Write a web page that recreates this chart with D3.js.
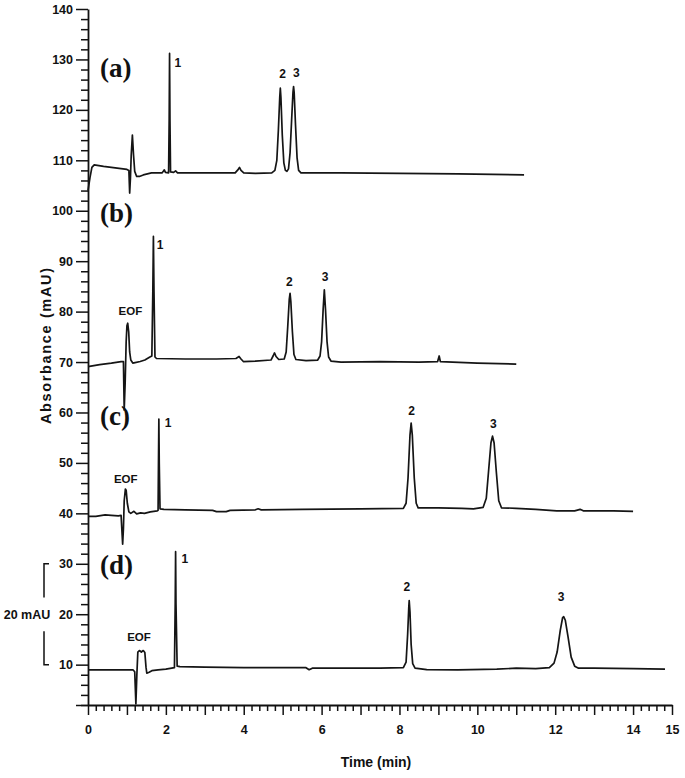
<!DOCTYPE html>
<html>
<head>
<meta charset="utf-8">
<script src="https://cdn.jsdelivr.net/npm/d3@7"></script>
<style>
  body { margin: 0; background: #fff; }
  svg { display: block; }
  text { font-family: "Liberation Sans", Arial, sans-serif; font-weight: bold; fill: #111; }
  .panel { font-family: "Liberation Serif", "Times New Roman", serif; font-size: 27px; }
</style>
</head>
<body>
<div id="chart"></div>
<script>
// electropherograms (a)-(d): [time (min), absorbance (mAU)]
const traceA = [
  [0.00,104.0],[0.05,106.5],[0.10,108.6],[0.16,109.1],[0.40,108.8],[0.70,108.5],[1.00,108.2],[1.05,108.0],
  [1.07,103.5],[1.09,106.5],[1.11,111.0],[1.14,115.0],[1.17,111.0],[1.20,107.8],[1.25,106.8],[1.32,106.8],
  [1.42,107.1],[1.63,107.5],[1.90,107.5],[1.94,107.9],[1.96,108.1],[1.99,107.6],[2.07,107.5],[2.085,118.0],
  [2.095,131.2],[2.105,118.0],[2.12,107.7],[2.20,107.6],[2.25,107.9],[2.30,107.5],[3.00,107.5],[3.78,107.5],
  [3.86,108.2],[3.89,108.6],[3.93,108.0],[4.00,107.5],[4.30,107.4],[4.72,107.5],[4.80,108.0],[4.85,110.0],
  [4.89,116.0],[4.925,122.5],[4.94,124.3],[4.955,122.5],[4.99,115.0],[5.03,109.5],[5.07,108.0],[5.11,107.8],
  [5.15,108.3],[5.19,111.5],[5.23,118.0],[5.265,123.5],[5.28,124.6],[5.295,123.5],[5.33,117.0],[5.37,110.5],
  [5.41,108.0],[5.47,107.5],[6.50,107.5],[8.00,107.4],[9.50,107.3],[11.20,107.1]
];
const traceB = [
  [0.00,69.1],[0.30,69.5],[0.60,69.8],[0.85,70.1],[0.91,70.1],[0.93,60.5],[0.955,66.0],[0.98,74.0],
  [1.00,77.2],[1.02,77.7],[1.045,76.0],[1.07,72.0],[1.10,70.4],[1.15,69.8],[1.21,69.9],[1.34,70.1],
  [1.46,70.4],[1.59,71.0],[1.64,71.2],[1.665,84.0],[1.68,94.9],[1.695,84.0],[1.72,71.0],[1.76,70.7],
  [2.50,70.6],[3.30,70.6],[3.80,70.7],[3.88,71.1],[3.93,70.6],[3.99,70.1],[4.30,70.2],[4.70,70.4],
  [4.76,71.3],[4.79,71.8],[4.83,71.1],[4.90,70.5],[5.04,70.6],[5.09,72.0],[5.13,77.0],[5.17,82.5],
  [5.19,83.6],[5.21,82.0],[5.25,76.0],[5.29,71.5],[5.34,70.5],[5.60,70.3],[5.90,70.4],[5.96,71.2],
  [6.00,74.0],[6.04,80.5],[6.07,84.3],[6.10,80.5],[6.14,74.0],[6.18,71.0],[6.24,70.2],[6.50,70.0],
  [7.50,70.1],[8.50,70.0],[8.98,70.1],[9.02,71.2],[9.05,70.1],[10.00,69.8],[11.00,69.6]
];
const traceC = [
  [0.00,39.4],[0.20,39.4],[0.44,39.7],[0.60,39.6],[0.78,39.5],[0.85,39.6],[0.89,33.9],[0.91,37.0],
  [0.93,42.5],[0.96,44.8],[0.98,44.6],[1.01,42.0],[1.05,40.3],[1.10,40.0],[1.18,40.4],[1.25,39.9],
  [1.35,40.1],[1.45,40.0],[1.60,40.3],[1.78,40.5],[1.80,40.6],[1.81,50.0],[1.82,58.7],[1.83,50.0],
  [1.85,40.9],[1.95,40.8],[2.50,40.7],[3.20,40.6],[3.30,40.35],[3.55,40.35],[3.65,40.6],[4.30,40.7],
  [4.37,40.9],[4.45,40.7],[5.50,40.8],[7.00,40.9],[8.10,41.0],[8.17,42.0],[8.22,47.0],[8.27,55.5],
  [8.30,57.9],[8.33,55.5],[8.38,47.0],[8.43,42.0],[8.48,41.1],[9.00,41.1],[9.60,41.0],[9.90,40.9],
  [10.15,41.2],[10.23,43.0],[10.29,48.5],[10.35,54.0],[10.39,55.3],[10.43,54.0],[10.49,48.0],[10.55,42.5],
  [10.62,41.1],[11.00,41.0],[11.50,40.8],[12.04,40.5],[12.50,40.5],[12.64,40.8],[12.72,40.5],[13.50,40.5],
  [14.00,40.4]
];
const traceD = [
  [0.00,8.95],[0.50,8.95],[1.00,8.95],[1.16,8.95],[1.20,8.6],[1.23,2.2],[1.255,8.0],[1.28,12.5],
  [1.32,12.8],[1.37,12.5],[1.42,12.8],[1.46,12.4],[1.49,9.5],[1.51,8.3],[1.57,8.5],[1.64,8.8],
  [1.80,8.95],[2.00,9.1],[2.15,9.3],[2.22,9.4],[2.24,22.0],[2.25,32.4],[2.26,22.0],[2.29,9.7],
  [2.36,9.6],[3.00,9.5],[4.00,9.4],[5.00,9.4],[5.60,9.4],[5.68,9.0],[5.76,9.3],[6.50,9.3],
  [7.50,9.3],[8.10,9.4],[8.17,10.5],[8.21,16.0],[8.24,21.5],[8.25,22.7],[8.27,20.5],[8.30,14.0],
  [8.34,10.2],[8.40,9.3],[8.70,9.0],[9.50,8.95],[10.50,9.1],[11.00,9.3],[11.50,9.2],[11.85,9.4],
  [11.97,10.3],[12.05,12.5],[12.13,16.8],[12.19,19.3],[12.22,19.5],[12.26,18.8],[12.33,15.5],[12.41,11.5],
  [12.50,9.7],[12.60,9.3],[13.00,9.3],[14.00,9.2],[14.82,9.1]
];
const traces = [traceA, traceB, traceC, traceD];

// annotations: [text, time, absorbance]
const panelLabels = [["(a)",0.31,126.5],["(b)",0.31,97.8],["(c)",0.31,57.5],["(d)",0.31,28.0]];
const peakLabels = [
  ["1",2.31,129.3],["2",5.00,127.1],["3",5.35,127.4],
  ["EOF",1.09,80.1],["1",1.85,93.2],["2",5.17,85.9],["3",6.09,86.9],
  ["EOF",0.97,46.8],["1",2.06,57.9],["2",8.31,60.4],["3",10.41,57.7],
  ["EOF",1.31,15.6],["1",2.49,31.1],["2",8.19,25.5],["3",12.15,23.4]
];

const xMajor = d3.range(0, 16, 1);
const xLabeled = [0, 2, 4, 6, 8, 10, 12, 14, 15];
const xMinor = d3.range(0, 75, 1).map(i => i / 5).filter(t => Math.abs(t - Math.round(t)) > 1e-6);
const yMajor = d3.range(10, 141, 10);
const yMinor = d3.range(2, 141, 2).filter(v => v % 10 !== 0);
const scaleBar = [10, 30]; // 20 mAU

const width = 685, height = 778;
const x = d3.scaleLinear().domain([0, 15]).range([88, 672]);
const y = d3.scaleLinear().domain([2, 140]).range([705, 9]);

const svg = d3.select('#chart').append('svg')
  .attr('width', width)
  .attr('height', height);

// y axis
svg.append('g')
  .attr('transform', `translate(${x(0)},0)`)
  .call(d3.axisLeft(y).tickValues([2].concat(yMajor)).tickSize(12).tickSizeOuter(0).tickPadding(3)
    .tickFormat(d => d === 2 ? '' : d));
svg.append('g')
  .attr('transform', `translate(${x(0)},0)`)
  .call(d3.axisLeft(y).tickValues(yMinor).tickSize(7).tickFormat(''))
  .call(g => g.select('.domain').remove());

// x axis
svg.append('g')
  .attr('transform', `translate(0,${y(2)})`)
  .call(d3.axisBottom(x).tickValues(xMajor).tickSize(10).tickSizeOuter(0).tickPadding(10)
    .tickFormat(d => xLabeled.includes(d) ? d : ''));
svg.append('g')
  .attr('transform', `translate(0,${y(2)})`)
  .call(d3.axisBottom(x).tickValues(xMinor).tickSize(6).tickFormat(''))
  .call(g => g.select('.domain').remove());

svg.selectAll('.domain').attr('stroke', '#111').attr('stroke-width', 1.8);
svg.selectAll('.tick line').attr('stroke', '#111').attr('stroke-width', 1.5);
svg.selectAll('.tick text').attr('font-size', 12.5).attr('fill', '#111')
  .attr('font-family', '"Liberation Sans", Arial, sans-serif').attr('font-weight', 'bold');

// axis titles
svg.append('text')
  .attr('transform', 'translate(51,346) rotate(-90)')
  .attr('text-anchor', 'middle')
  .attr('font-size', 14.5)
  .attr('textLength', 156)
  .attr('lengthAdjust', 'spacing')
  .text('Absorbance (mAU)');
svg.append('text')
  .attr('x', 376).attr('y', 767)
  .attr('text-anchor', 'middle')
  .attr('font-size', 14)
  .text('Time (min)');

// traces
const line = d3.line().x(d => x(d[0])).y(d => y(d[1]));
svg.append('g').selectAll('path')
  .data(traces)
  .enter()
  .append('path')
  .attr('d', line)
  .attr('fill', 'none')
  .attr('stroke', '#151515')
  .attr('stroke-width', 1.7)
  .attr('stroke-linejoin', 'round');

// panel letters
svg.append('g').selectAll('text')
  .data(panelLabels)
  .enter()
  .append('text')
  .attr('class', 'panel')
  .attr('x', d => x(d[1]))
  .attr('y', d => y(d[2]))
  .text(d => d[0]);

// peak labels
svg.append('g').selectAll('text')
  .data(peakLabels)
  .enter()
  .append('text')
  .attr('x', d => x(d[1]))
  .attr('y', d => y(d[2]))
  .attr('dy', '0.36em')
  .attr('text-anchor', 'middle')
  .attr('font-size', d => d[0] === 'EOF' ? 11.5 : 12)
  .text(d => d[0]);

// 20 mAU scale bar
const bx = 44;
const bar = svg.append('g').attr('stroke', '#111').attr('stroke-width', 1.5).attr('fill', 'none');
bar.append('path').attr('d', `M${bx + 5},${y(scaleBar[1])}H${bx}V${y(23.3)}`);
bar.append('path').attr('d', `M${bx},${y(16.6)}V${y(scaleBar[0])}H${bx + 5}`);
svg.append('text')
  .attr('x', 27).attr('y', y(20))
  .attr('dy', '0.36em')
  .attr('text-anchor', 'middle')
  .attr('font-size', 12.5)
  .text('20 mAU');
</script>
</body>
</html>
